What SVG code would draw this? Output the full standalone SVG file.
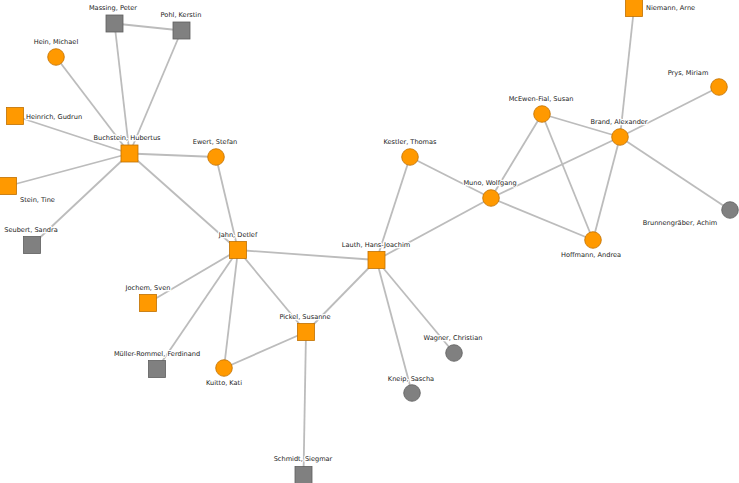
<svg xmlns="http://www.w3.org/2000/svg" width="739" height="483" viewBox="0 0 739 483">
<style>
.e{stroke:#bcbcbc;stroke-width:1.8;fill:none}
.o{fill:#ff9900;stroke:#c07000;stroke-width:0.8}
.g{fill:#808080;stroke:#5e5e5e;stroke-width:0.8}
text{font-family:"DejaVu Sans",sans-serif;font-size:6.6px;fill:#222;text-anchor:middle;stroke:#fff;stroke-width:2.5;paint-order:stroke;stroke-linejoin:round}
.s{text-anchor:start}
</style>
<rect width="739" height="483" fill="#fff"/>
<g id="edges">
<line class="e" x1="114.5" y1="23.5" x2="181.5" y2="30.5"/>
<line class="e" x1="114.5" y1="23.5" x2="129.5" y2="153.5"/>
<line class="e" x1="181.5" y1="30.5" x2="129.5" y2="153.5"/>
<line class="e" x1="56" y1="57" x2="129.5" y2="153.5"/>
<line class="e" x1="15" y1="116" x2="129.5" y2="153.5"/>
<line class="e" x1="8" y1="186" x2="129.5" y2="153.5"/>
<line class="e" x1="32" y1="245" x2="129.5" y2="153.5"/>
<line class="e" x1="216" y1="157" x2="129.5" y2="153.5"/>
<line class="e" x1="129.5" y1="153.5" x2="238" y2="250"/>
<line class="e" x1="216" y1="157" x2="238" y2="250"/>
<line class="e" x1="238" y1="250" x2="376.5" y2="260"/>
<line class="e" x1="238" y1="250" x2="148" y2="303"/>
<line class="e" x1="238" y1="250" x2="157" y2="369"/>
<line class="e" x1="238" y1="250" x2="224" y2="368"/>
<line class="e" x1="238" y1="250" x2="306" y2="332"/>
<line class="e" x1="224" y1="368" x2="306" y2="332"/>
<line class="e" x1="306" y1="332" x2="303.5" y2="475"/>
<line class="e" x1="306" y1="332" x2="376.5" y2="260"/>
<line class="e" x1="376.5" y1="260" x2="410" y2="157"/>
<line class="e" x1="376.5" y1="260" x2="491" y2="198"/>
<line class="e" x1="376.5" y1="260" x2="454" y2="353"/>
<line class="e" x1="376.5" y1="260" x2="412" y2="393"/>
<line class="e" x1="410" y1="157" x2="491" y2="198"/>
<line class="e" x1="491" y1="198" x2="542" y2="114"/>
<line class="e" x1="491" y1="198" x2="620" y2="137"/>
<line class="e" x1="491" y1="198" x2="593" y2="240"/>
<line class="e" x1="542" y1="114" x2="620" y2="137"/>
<line class="e" x1="542" y1="114" x2="593" y2="240"/>
<line class="e" x1="620" y1="137" x2="593" y2="240"/>
<line class="e" x1="620" y1="137" x2="634" y2="8"/>
<line class="e" x1="620" y1="137" x2="719" y2="87"/>
<line class="e" x1="620" y1="137" x2="730" y2="210"/>
</g>
<g id="massing"><rect class="g" x="106" y="15" width="17" height="17"/><text x="113" y="10.3">Massing, Peter</text></g>
<g id="pohl"><rect class="g" x="173" y="22" width="17" height="17"/><text x="181" y="17.3">Pohl, Kerstin</text></g>
<g id="hein"><circle class="o" cx="56" cy="57" r="8.3"/><text x="56" y="44.3">Hein, Michael</text></g>
<g id="heinrich"><rect class="o" x="6.5" y="107.5" width="17" height="17"/><text class="s" x="26" y="119.3">Heinrich, Gudrun</text></g>
<g id="buchstein"><rect class="o" x="121" y="145" width="17" height="17"/><text x="127" y="140.3">Buchstein, Hubertus</text></g>
<g id="ewert"><circle class="o" cx="216" cy="157" r="8.3"/><text x="215" y="144.3">Ewert, Stefan</text></g>
<g id="stein"><rect class="o" x="-0.5" y="177.5" width="17" height="17"/><text class="s" x="20" y="202.3">Stein, Tine</text></g>
<g id="seubert"><rect class="g" x="23.5" y="236.5" width="17" height="17"/><text x="31" y="232.3">Seubert, Sandra</text></g>
<g id="jahn"><rect class="o" x="229.5" y="241.5" width="17" height="17"/><text x="238" y="237.3">Jahn, Detlef</text></g>
<g id="lauth"><rect class="o" x="368" y="251.5" width="17" height="17"/><text x="376" y="247.3">Lauth, Hans-Joachim</text></g>
<g id="jochem"><rect class="o" x="139.5" y="294.5" width="17" height="17"/><text x="148" y="290.3">Jochem, Sven</text></g>
<g id="mueller"><rect class="g" x="148.5" y="360.5" width="17" height="17"/><text x="157" y="356.3">Müller-Rommel, Ferdinand</text></g>
<g id="kuitto"><circle class="o" cx="224" cy="368" r="8.3"/><text x="224" y="385.3">Kuitto, Kati</text></g>
<g id="pickel"><rect class="o" x="297.5" y="323.5" width="17" height="17"/><text x="305" y="319.3">Pickel, Susanne</text></g>
<g id="schmidt"><rect class="g" x="295" y="466.5" width="17" height="17"/><text x="303" y="461.3">Schmidt, Siegmar</text></g>
<g id="kestler"><circle class="o" cx="410" cy="157" r="8.3"/><text x="410" y="144.3">Kestler, Thomas</text></g>
<g id="muno"><circle class="o" cx="491" cy="198" r="8.3"/><text x="490" y="185.3">Muno, Wolfgang</text></g>
<g id="mcewen"><circle class="o" cx="542" cy="114" r="8.3"/><text x="541" y="101.3">McEwen-Fial, Susan</text></g>
<g id="brand"><circle class="o" cx="620" cy="137" r="8.3"/><text x="619" y="124.3">Brand, Alexander</text></g>
<g id="hoffmann"><circle class="o" cx="593" cy="240" r="8.3"/><text x="591" y="257.3">Hoffmann, Andrea</text></g>
<g id="brunnengraeber"><circle class="g" cx="730" cy="210" r="8.3"/><text x="680" y="225.3">Brunnengräber, Achim</text></g>
<g id="niemann"><rect class="o" x="625.5" y="-0.5" width="17" height="17"/><text class="s" x="646" y="10.3">Niemann, Arne</text></g>
<g id="prys"><circle class="o" cx="719" cy="87" r="8.3"/><text x="688" y="75.3">Prys, Miriam</text></g>
<g id="wagner"><circle class="g" cx="454" cy="353" r="8.3"/><text x="453" y="340.3">Wagner, Christian</text></g>
<g id="kneip"><circle class="g" cx="412" cy="393" r="8.3"/><text x="411" y="381.3">Kneip, Sascha</text></g>
</svg>
